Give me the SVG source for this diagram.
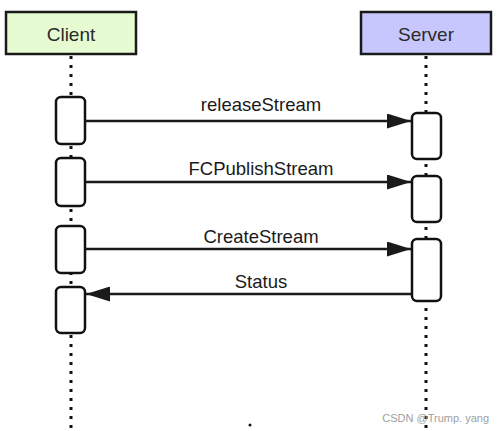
<svg xmlns="http://www.w3.org/2000/svg" width="500" height="431" viewBox="0 0 500 431">
<style>
.head{stroke:#1a1a1a;stroke-width:2.5}
.lbl{font-family:"Liberation Sans",Arial,sans-serif;font-size:18.5px;fill:#1a1a1a;text-anchor:middle}
.hdr{font-family:"Liberation Sans",Arial,sans-serif;font-size:19px;fill:#2a2a2a;text-anchor:middle}
.life{stroke:#111;stroke-width:3;stroke-dasharray:3 6;fill:none}
.act{fill:#fff;stroke:#111;stroke-width:2.5}
.msg{stroke:#1a1a1a;stroke-width:2.5;fill:none}
</style>
<defs>
<marker id="arr" viewBox="0 0 24 15" refX="24" refY="7.5" markerWidth="24" markerHeight="15" markerUnits="userSpaceOnUse" orient="auto">
<path d="M0,0 L24,7.5 L0,15 z" fill="#1a1a1a"/>
</marker>
</defs>
<rect width="500" height="431" fill="#fff"/>
<g id="lifelines">
<line class="life" x1="71" y1="56" x2="71" y2="431"/>
<line class="life" x1="426" y1="56" x2="426" y2="431"/>
</g>
<g id="client">
<rect class="head" x="6" y="12" width="130" height="42" fill="#e6fbd2"/>
<text class="hdr" x="71" y="41">Client</text>
</g>
<g id="server">
<rect class="head" x="361" y="12" width="130" height="42" fill="#c7c7fd"/>
<text class="hdr" x="426" y="41">Server</text>
</g>
<g id="client-activations">
<rect class="act" x="56" y="97" width="29" height="47" rx="5"/>
<rect class="act" x="56" y="158" width="29" height="48" rx="5"/>
<rect class="act" x="56" y="226" width="29" height="47" rx="5"/>
<rect class="act" x="56" y="287" width="29" height="46" rx="5"/>
</g>
<g id="server-activations">
<rect class="act" x="412" y="113" width="29" height="46" rx="5"/>
<rect class="act" x="412" y="176" width="29" height="46" rx="5"/>
<rect class="act" x="412" y="239" width="29" height="62" rx="5"/>
</g>
<g id="connectors">
<line class="msg" x1="85" y1="121" x2="411" y2="121" marker-end="url(#arr)"/>
<line class="msg" x1="85" y1="182" x2="411" y2="182" marker-end="url(#arr)"/>
<line class="msg" x1="85" y1="249" x2="411" y2="249" marker-end="url(#arr)"/>
<line class="msg" x1="412" y1="294" x2="86" y2="294" marker-end="url(#arr)"/>
</g>
<g id="labels">
<text class="lbl" x="261" y="111">releaseStream</text>
<text class="lbl" x="261" y="175">FCPublishStream</text>
<text class="lbl" x="261" y="243">CreateStream</text>
<text class="lbl" x="261" y="288">Status</text>
</g>
<circle cx="250" cy="425" r="1.5" fill="#111"/>
<text x="489" y="422" font-family="'Liberation Sans',Arial,sans-serif" font-size="11" fill="#a0a0a0" text-anchor="end">CSDN @Trump. yang</text>
</svg>
